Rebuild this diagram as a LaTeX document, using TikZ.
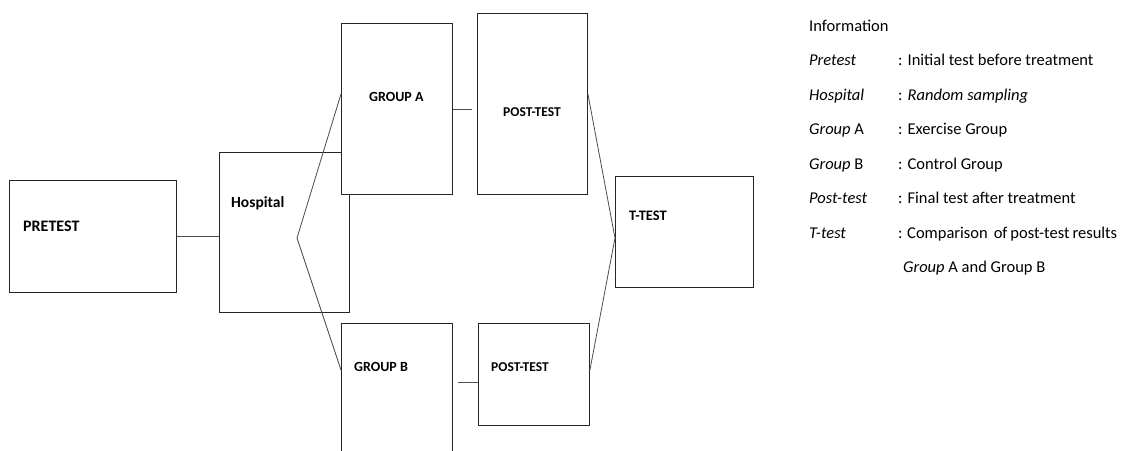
\documentclass[tikz,border=0pt]{standalone}
\usepackage{fontspec}
\setmainfont{Carlito}
\usetikzlibrary{calc}
\begin{document}
\begin{tikzpicture}[x=1pt,y=-1pt,
  box/.style={draw=black!85, line width=0.9pt, fill=white, inner sep=0pt, anchor=north west},
  conn/.style={draw=black!70, line width=0.8pt},
  lbl/.style={anchor=base west, inner sep=0pt},
  leg/.style={anchor=base west, inner sep=0pt, font=\fontsize{16.5}{20}\selectfont}]
\useasboundingbox (0,0) rectangle (1121,450);
\clip (0,0) rectangle (1121,450);
% boxes
\node[box, minimum width=167pt, minimum height=112pt] (pre) at (9,180) {};
\node[box, minimum width=130pt, minimum height=160pt] (hosp) at (219,152) {};
\node[box, minimum width=111pt, minimum height=171pt] (ga) at (341,23) {};
\node[box, minimum width=110pt, minimum height=181pt] (pa) at (477,13) {};
\node[box, minimum width=111pt, minimum height=140pt] (gb) at (341,323) {};
\node[box, minimum width=111pt, minimum height=102pt] (pb) at (478,323) {};
\node[box, minimum width=138pt, minimum height=111pt] (tt) at (615,176) {};
% labels
\node[lbl, font=\bfseries\fontsize{16}{18}\selectfont] (prel) at (23,231) {PRETEST};
\node[lbl, font=\bfseries\fontsize{15.5}{18}\selectfont] (hospl) at (231,207) {Hospital};
\node[lbl, font=\bfseries\fontsize{14}{16}\selectfont] (gal) at (369,101) {GROUP A};
\node[lbl, font=\bfseries\fontsize{13.5}{16}\selectfont] (pal) at (503,116) {POST-TEST};
\node[lbl, font=\bfseries\fontsize{14}{16}\selectfont] (gbl) at (354,371) {GROUP B};
\node[lbl, font=\bfseries\fontsize{13.5}{16}\selectfont] (pbl) at (491,371) {POST-TEST};
\node[lbl, font=\bfseries\fontsize{14.5}{16}\selectfont] (ttl) at (629,220) {T-TEST};
% connectors
\draw[conn] (pre.east) -- (pre.east -| hosp.west);
\draw[conn, shorten >=5pt] (ga.east) -- (ga.east -| pa.west);
\coordinate (gbpb) at ($(gb.north east)+(5,59)$);
\draw[conn] (gbpb) -- (gbpb -| pb.west);
\coordinate (hf) at ($(hosp.north west)+(78,86)$);
\coordinate (faA) at ($(ga.north west)+(0,71)$);
\coordinate (fbB) at ($(gb.north west)+(0,47)$);
\draw[conn] (faA) -- (hf) -- (fbB);
\coordinate (paR) at ($(pa.north east)+(0,81)$);
\coordinate (pbR) at ($(pb.north east)+(0,47)$);
\coordinate (ttL) at ($(tt.north west)+(0,62)$);
\draw[conn] (paR) -- (ttL) -- (pbR);
% legend
\node[leg] (info) at (809,31) {Information};
\node[leg] (k1) at (809,65.5) {\itshape Pretest};
\node[leg] (d1) at (898,65.5) {: Initial test before treatment};
\node[leg] (k2) at (809,100) {\itshape Hospital};
\node[leg] (d2) at (898,100) {: \textit{Random sampling}};
\node[leg] (k3) at (809,134.5) {\textit{Group} A};
\node[leg] (d3) at (898,134.5) {: Exercise Group};
\node[leg] (k4) at (809,169) {\textit{Group} B};
\node[leg] (d4) at (898,169) {: Control Group};
\node[leg] (k5) at (809,203.5) {\itshape Post-test};
\node[leg] (d5) at (898,203.5) {: Final test after treatment};
\node[leg] (k6) at (809,238) {\itshape T-test};
\node[leg] (d6) at (898,238) {\makebox[219pt][s]{: Comparison\hspace{3pt} of post-test results}};
\node[leg] (d7) at (903,272.5) {\textit{Group} A and Group B};
\end{tikzpicture}
\end{document}
